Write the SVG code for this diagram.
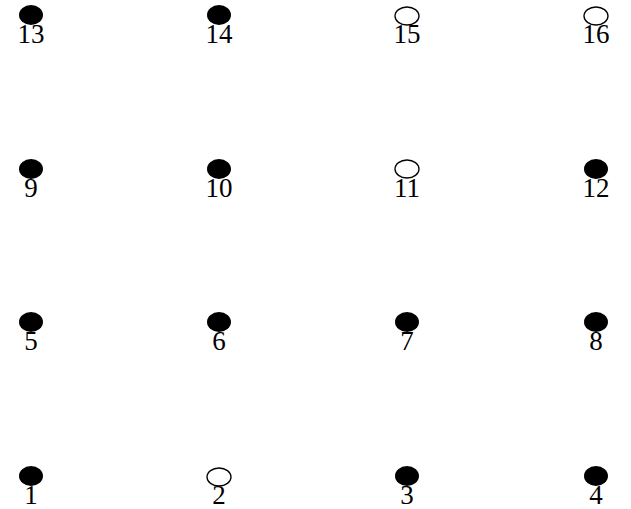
<svg xmlns="http://www.w3.org/2000/svg" width="631" height="509" viewBox="0 0 631 509">
<style>
.f{fill:#000}
.o{fill:#fff;stroke:#000;stroke-width:1.3}
text{font-family:"Liberation Serif","DejaVu Serif",serif;font-size:27px;text-anchor:middle;fill:#000}
</style>
<rect width="631" height="509" fill="#fff"/>
<g id="connectors"></g>
<g id="n13"><ellipse class="f" cx="31" cy="15" rx="12" ry="10"/><text x="31" y="43">13</text></g>
<g id="n14"><ellipse class="f" cx="219" cy="15" rx="12" ry="10"/><text x="219" y="43">14</text></g>
<g id="n15"><ellipse class="o" cx="407" cy="16" rx="12" ry="9"/><text x="407" y="43">15</text></g>
<g id="n16"><ellipse class="o" cx="596" cy="16" rx="12" ry="9"/><text x="596" y="43">16</text></g>
<g id="n9"><ellipse class="f" cx="31" cy="169" rx="12" ry="10"/><text x="31" y="197">9</text></g>
<g id="n10"><ellipse class="f" cx="219" cy="169" rx="12" ry="10"/><text x="219" y="197">10</text></g>
<g id="n11"><ellipse class="o" cx="407" cy="169" rx="12" ry="9"/><text x="407" y="197">11</text></g>
<g id="n12"><ellipse class="f" cx="596" cy="169" rx="12" ry="10"/><text x="596" y="197">12</text></g>
<g id="n5"><ellipse class="f" cx="31" cy="322" rx="12" ry="10"/><text x="31" y="350">5</text></g>
<g id="n6"><ellipse class="f" cx="219" cy="322" rx="12" ry="10"/><text x="219" y="350">6</text></g>
<g id="n7"><ellipse class="f" cx="407" cy="322" rx="12" ry="10"/><text x="407" y="350">7</text></g>
<g id="n8"><ellipse class="f" cx="596" cy="322" rx="12" ry="10"/><text x="596" y="350">8</text></g>
<g id="n1"><ellipse class="f" cx="31" cy="476" rx="12" ry="10"/><text x="31" y="504">1</text></g>
<g id="n2"><ellipse class="o" cx="219" cy="477" rx="12" ry="9"/><text x="219" y="504">2</text></g>
<g id="n3"><ellipse class="f" cx="407" cy="476" rx="12" ry="10"/><text x="407" y="504">3</text></g>
<g id="n4"><ellipse class="f" cx="596" cy="476" rx="12" ry="10"/><text x="596" y="504">4</text></g>
</svg>
